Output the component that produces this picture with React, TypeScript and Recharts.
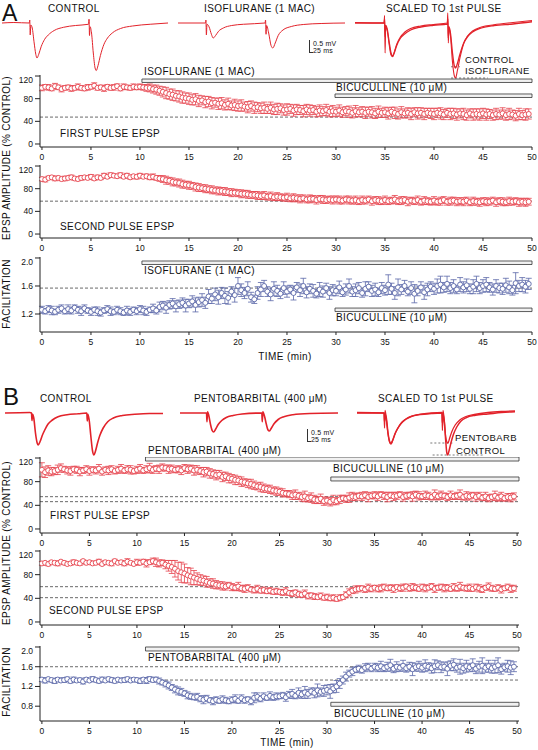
import React from "react";
import {
  ComposedChart,
  Scatter,
  ErrorBar,
  XAxis,
  YAxis,
  ReferenceLine,
  ReferenceArea,
  LineChart,
  Line,
} from "recharts";

const FONT = '"Liberation Sans", Arial, Helvetica, sans-serif';
const RED = "#e6434d";
const BLUE = "#5a67a8";
const TRACE_RED = "#e2222a";
const AXIS = "#222";

const SAMPLES_PER_MIN = 3;
const TIME_TICKS = [0, 5, 10, 15, 20, 25, 30, 35, 40, 45, 50];
const EPSP_TICKS = [0, 40, 80, 120];
const FACIL_TICKS_A = [1.0, 1.2, 1.4, 1.6, 1.8, 2.0];
const FACIL_TICKS_B = [0.8, 1.2, 1.6, 2.0];

// drug application windows (min)
const ISO_ON = [10.2, 50];
const BIC_ON_A = [29.9, 50];
const PENTO_ON = [10.9, 50.2];
const BIC_ON_B = [30.4, 50.2];

// dashed reference levels
const REF_A1 = [47.5];
const REF_A2 = [58];
const REF_A3 = [1.57];
const REF_B1 = [54.6, 46.2];
const REF_B2 = [59.7, 41.1];
const REF_B3 = [1.6, 1.33];

// panel A, isoflurane, one value every 20 s
const ISO_FIRST = [
  99, 101, 100, 98, 102, 100, 97, 99, 100, 98, 99, 101, 99, 98, 100,
  101, 103, 99, 100, 98, 101, 99, 100, 102, 98, 101, 100, 99, 101, 100,
  101, 100, 99, 99, 97, 96, 94, 92, 90, 88, 87, 85, 84, 82, 81,
  80, 78, 79, 76, 77, 74, 75, 72, 73, 71, 72, 69, 71, 68, 69,
  67, 68, 66, 65, 67, 64, 65, 63, 64, 62, 64, 61, 62, 63, 60,
  61, 62, 59, 61, 60, 58, 61, 59, 60, 57, 59, 58, 60, 57, 58,
  57, 59, 56, 58, 57, 55, 58, 56, 57, 55, 57, 56, 54, 57, 55,
  56, 54, 57, 55, 53, 56, 54, 55, 53, 56, 54, 55, 53, 55, 54,
  53, 55, 54, 52, 55, 53, 54, 52, 54, 53, 51, 54, 52, 53, 52,
  54, 52, 53, 51, 53, 52, 54, 51, 53, 52, 50, 53, 51, 52, 53,
];
const ISO_FIRST_ERR = [
  5, 4, 5, 4, 5, 4, 5, 4, 4, 5, 4, 5, 4, 4, 5,
  4, 5, 4, 4, 5, 4, 4, 5, 4, 4, 5, 4, 4, 5, 4,
  5, 5, 6, 7, 7, 8, 8, 9, 10, 9, 10, 9, 10, 10, 9,
  10, 9, 10, 10, 8, 10, 9, 10, 8, 10, 10, 9, 10, 8, 10,
  9, 10, 8, 10, 9, 10, 8, 9, 10, 8, 10, 9, 10, 8, 9,
  10, 8, 10, 9, 8, 10, 9, 10, 8, 9, 10, 8, 10, 9, 10,
  8, 10, 9, 8, 10, 9, 10, 8, 9, 10, 8, 10, 9, 10, 8,
  9, 10, 8, 10, 9, 10, 8, 9, 10, 8, 10, 9, 10, 8, 9,
  10, 8, 10, 9, 8, 10, 9, 10, 8, 10, 9, 8, 10, 9, 10,
  9, 10, 8, 9, 10, 8, 10, 9, 10, 8, 9, 10, 8, 10, 9,
];
const ISO_SECOND = [
  97, 96, 99, 100, 98, 99, 97, 98, 99, 100, 98, 97, 99, 100, 99,
  101, 98, 100, 99, 103, 101, 104, 103, 102, 104, 101, 103, 100, 102, 101,
  103, 101, 102, 100, 101, 99, 98, 97, 95, 94, 92, 91, 90, 88, 87,
  86, 85, 83, 82, 81, 80, 79, 78, 77, 76, 76, 75, 74, 73, 73,
  72, 71, 71, 70, 69, 69, 68, 67, 68, 66, 67, 65, 66, 65, 64,
  65, 63, 64, 63, 62, 63, 61, 62, 62, 60, 62, 61, 60, 61, 60,
  61, 60, 59, 61, 60, 59, 60, 58, 60, 59, 61, 58, 60, 59, 58,
  60, 58, 59, 61, 58, 59, 60, 57, 59, 58, 60, 57, 59, 58, 57,
  59, 57, 58, 60, 57, 58, 59, 57, 58, 57, 59, 56, 58, 57, 56,
  58, 57, 57, 59, 56, 58, 57, 56, 58, 57, 58, 56, 57, 56, 57,
];
const ISO_SECOND_ERR = [
  3, 4, 3, 3, 4, 3, 3, 4, 3, 4, 3, 3, 4, 3, 3,
  4, 3, 4, 3, 4, 3, 4, 3, 3, 4, 3, 4, 3, 3, 4,
  4, 3, 4, 4, 5, 4, 5, 6, 7, 6, 7, 6, 7, 7, 6,
  7, 6, 7, 7, 6, 7, 6, 7, 6, 7, 6, 7, 6, 7, 6,
  6, 7, 6, 7, 6, 6, 7, 6, 7, 6, 7, 6, 7, 6, 6,
  7, 6, 7, 6, 7, 6, 6, 7, 6, 7, 6, 7, 6, 6, 7,
  6, 7, 6, 6, 7, 6, 7, 6, 7, 6, 6, 7, 6, 7, 6,
  7, 6, 6, 7, 6, 7, 6, 7, 6, 6, 7, 6, 7, 6, 6,
  7, 6, 7, 6, 6, 7, 6, 7, 6, 7, 6, 6, 7, 6, 7,
  6, 7, 6, 6, 7, 6, 7, 6, 7, 6, 6, 7, 6, 7, 6,
];
const ISO_FACIL = [
  1.26, 1.24, 1.27, 1.25, 1.23, 1.26, 1.28, 1.24, 1.27, 1.25, 1.29, 1.26, 1.24, 1.28, 1.25,
  1.23, 1.26, 1.24, 1.22, 1.25, 1.27, 1.24, 1.23, 1.26, 1.24, 1.22, 1.25, 1.23, 1.26, 1.24,
  1.27, 1.25, 1.23, 1.26, 1.28, 1.25, 1.3, 1.32, 1.29, 1.33, 1.35, 1.31, 1.34, 1.36, 1.32,
  1.35, 1.38, 1.33, 1.37, 1.4, 1.36, 1.45, 1.42, 1.48, 1.44, 1.5, 1.46, 1.43, 1.52, 1.47,
  1.6, 1.54, 1.5, 1.56, 1.44, 1.41, 1.5, 1.55, 1.6, 1.52, 1.48, 1.56, 1.53, 1.49, 1.57,
  1.52, 1.55, 1.5, 1.58, 1.54, 1.6, 1.51, 1.56, 1.53, 1.49, 1.55, 1.52, 1.57, 1.5, 1.54,
  1.53, 1.58, 1.51, 1.55, 1.6, 1.52, 1.54, 1.57, 1.5, 1.56, 1.59, 1.53, 1.55, 1.51, 1.57,
  1.54, 1.62, 1.56, 1.5, 1.58, 1.55, 1.6, 1.52, 1.57, 1.49, 1.53, 1.58, 1.51, 1.55, 1.59,
  1.56, 1.6, 1.62, 1.58, 1.63, 1.57, 1.6, 1.55, 1.62, 1.58, 1.61, 1.56, 1.59, 1.63, 1.57,
  1.6, 1.62, 1.58, 1.55, 1.6, 1.57, 1.56, 1.61, 1.58, 1.54, 1.64, 1.6, 1.62, 1.59, 1.63,
];
const ISO_FACIL_ERR = [
  0.05, 0.04, 0.05, 0.06, 0.04, 0.05, 0.05, 0.04, 0.06, 0.05, 0.04, 0.05, 0.06, 0.05, 0.04,
  0.05, 0.04, 0.06, 0.05, 0.04, 0.05, 0.06, 0.04, 0.05, 0.05, 0.04, 0.06, 0.05, 0.04, 0.05,
  0.05, 0.06, 0.05, 0.04, 0.06, 0.05, 0.07, 0.06, 0.08, 0.06, 0.07, 0.08, 0.06, 0.07, 0.09,
  0.06, 0.08, 0.1, 0.07, 0.09, 0.08, 0.1, 0.07, 0.09, 0.1, 0.08, 0.11, 0.09, 0.07, 0.1,
  0.12, 0.09, 0.08, 0.1, 0.07, 0.06, 0.09, 0.1, 0.08, 0.07, 0.09, 0.1, 0.08, 0.07, 0.09,
  0.08, 0.06, 0.1, 0.07, 0.09, 0.11, 0.08, 0.07, 0.09, 0.06, 0.1, 0.08, 0.07, 0.09, 0.08,
  0.07, 0.09, 0.06, 0.08, 0.1, 0.07, 0.09, 0.08, 0.06, 0.1, 0.07, 0.08, 0.09, 0.06, 0.08,
  0.07, 0.14, 0.08, 0.09, 0.12, 0.07, 0.08, 0.06, 0.09, 0.13, 0.07, 0.08, 0.1, 0.09, 0.07,
  0.08, 0.1, 0.12, 0.07, 0.11, 0.08, 0.09, 0.06, 0.1, 0.08, 0.09, 0.07, 0.1, 0.11, 0.08,
  0.09, 0.1, 0.07, 0.08, 0.09, 0.07, 0.08, 0.1, 0.09, 0.07, 0.15, 0.08, 0.1, 0.09, 0.08,
];

// panel B, pentobarbital
const PENTO_FIRST = [
  100, 96, 99, 97, 98, 100, 103, 101, 99, 98, 101, 100, 97, 99, 101,
  98, 100, 99, 102, 97, 100, 99, 101, 98, 100, 102, 99, 101, 100, 98,
  100, 102, 99, 101, 103, 100, 102, 101, 104, 103, 101, 102, 100, 101, 99,
  103, 101, 102, 99, 100, 98, 96, 97, 94, 93, 91, 92, 88, 89, 86,
  85, 83, 82, 80, 79, 77, 76, 74, 72, 71, 69, 68, 67, 65, 64,
  63, 61, 60, 59, 57, 58, 56, 54, 55, 52, 53, 50, 49, 51, 47,
  48, 46, 49, 47, 50, 52, 51, 53, 55, 54, 56, 55, 57, 54, 56,
  57, 55, 58, 56, 54, 57, 55, 56, 58, 54, 56, 57, 55, 58, 56,
  55, 57, 56, 54, 58, 55, 57, 56, 54, 57, 55, 56, 58, 54, 56,
  55, 57, 54, 56, 53, 55, 52, 54, 56, 53, 55, 52, 54, 53, 55,
];
const PENTO_FIRST_ERR = [
  12, 9, 8, 7, 6, 8, 7, 5, 6, 7, 5, 6, 7, 5, 6,
  7, 5, 6, 7, 6, 5, 7, 6, 5, 6, 7, 5, 6, 7, 5,
  6, 7, 5, 6, 8, 6, 5, 7, 6, 5, 7, 6, 5, 6, 7,
  6, 7, 6, 8, 7, 6, 8, 7, 8, 7, 8, 7, 8, 7, 8,
  7, 8, 7, 8, 6, 7, 8, 7, 6, 8, 7, 6, 7, 6, 7,
  6, 7, 5, 6, 7, 8, 6, 7, 9, 6, 8, 7, 6, 8, 7,
  6, 7, 8, 6, 7, 5, 6, 8, 7, 6, 5, 7, 6, 8, 5,
  6, 7, 5, 6, 8, 5, 7, 6, 5, 7, 6, 5, 8, 6, 7,
  5, 7, 6, 5, 8, 6, 7, 5, 6, 7, 5, 6, 8, 5, 7,
  6, 5, 7, 6, 5, 7, 6, 5, 8, 6, 7, 5, 6, 7, 6,
];
const PENTO_SECOND = [
  99, 100, 98, 101, 100, 99, 102, 100, 98, 99, 101, 100, 99, 103, 100,
  101, 99, 100, 102, 98, 101, 100, 99, 103, 100, 101, 99, 102, 100, 98,
  101, 100, 102, 99, 101, 103, 101, 99, 100, 97, 95, 93, 90, 86, 84,
  82, 79, 77, 75, 73, 71, 70, 68, 66, 65, 63, 62, 61, 60, 62,
  59, 58, 60, 57, 56, 58, 55, 54, 56, 53, 54, 52, 53, 51, 52,
  51, 50, 52, 49, 48, 50, 47, 46, 48, 44, 45, 43, 42, 44, 41,
  42, 40, 41, 39, 41, 42, 46, 50, 53, 55, 56, 57, 55, 58, 56,
  58, 56, 57, 59, 57, 58, 56, 59, 57, 58, 60, 57, 59, 58, 56,
  59, 57, 58, 60, 56, 58, 59, 57, 58, 56, 59, 57, 60, 58, 57,
  58, 56, 59, 57, 55, 58, 60, 57, 56, 58, 55, 57, 59, 56, 57,
];
const PENTO_SECOND_ERR = [
  3, 2, 3, 2, 3, 4, 2, 3, 2, 3, 4, 2, 3, 2, 3,
  3, 2, 3, 4, 2, 3, 2, 4, 3, 2, 3, 4, 5, 3, 2,
  5, 3, 4, 6, 4, 5, 7, 6, 5, 7, 9, 11, 14, 15, 17,
  16, 13, 14, 12, 10, 9, 8, 9, 7, 8, 7, 6, 7, 6, 5,
  6, 5, 7, 5, 6, 5, 4, 5, 6, 4, 5, 4, 5, 4, 5,
  4, 5, 6, 4, 5, 4, 5, 4, 6, 5, 4, 5, 4, 5, 4,
  5, 4, 5, 4, 5, 4, 5, 6, 5, 6, 5, 4, 5, 6, 5,
  4, 5, 6, 5, 4, 5, 6, 4, 5, 6, 4, 5, 6, 5, 4,
  5, 6, 4, 5, 6, 4, 5, 6, 5, 4, 6, 5, 7, 4, 5,
  6, 4, 5, 6, 5, 4, 6, 5, 4, 5, 6, 4, 5, 6, 5,
];
const PENTO_FACIL = [
  1.34, 1.32, 1.35, 1.33, 1.31, 1.34, 1.32, 1.33, 1.35, 1.31, 1.34, 1.32, 1.33, 1.3, 1.34,
  1.32, 1.35, 1.33, 1.31, 1.34, 1.32, 1.35, 1.33, 1.31, 1.34, 1.32, 1.33, 1.35, 1.32, 1.34,
  1.33, 1.31, 1.34, 1.32, 1.35, 1.33, 1.34, 1.31, 1.28, 1.25, 1.22, 1.18, 1.14, 1.11, 1.09,
  1.06, 1.02, 1.0, 0.98, 0.99, 0.95, 0.93, 0.96, 0.92, 0.9, 0.93, 0.91, 0.94, 0.92, 0.9,
  0.93, 0.95, 0.91, 0.96, 0.92, 0.94, 0.9, 0.97, 0.99, 0.95, 1.0, 0.97, 1.01, 0.98, 1.0,
  1.0, 1.02, 0.98, 1.03, 1.05, 1.01, 1.07, 1.04, 1.08, 1.05, 1.1, 1.07, 1.12, 1.09, 1.11,
  1.13, 1.1, 1.16, 1.2, 1.26, 1.33, 1.4, 1.46, 1.5, 1.54, 1.56, 1.53, 1.58, 1.6, 1.56,
  1.6, 1.58, 1.61, 1.57, 1.6, 1.63, 1.56, 1.6, 1.58, 1.62, 1.57, 1.6, 1.55, 1.59, 1.61,
  1.58, 1.62, 1.6, 1.57, 1.61, 1.63, 1.59, 1.6, 1.56, 1.62, 1.64, 1.58, 1.6, 1.57, 1.61,
  1.59, 1.63, 1.56, 1.6, 1.62, 1.58, 1.61, 1.57, 1.6, 1.63, 1.55, 1.59, 1.61, 1.58, 1.6,
];
const PENTO_FACIL_ERR = [
  0.04, 0.05, 0.03, 0.04, 0.05, 0.04, 0.03, 0.05, 0.04, 0.04, 0.05, 0.03, 0.04, 0.05, 0.04,
  0.03, 0.05, 0.04, 0.04, 0.05, 0.03, 0.04, 0.05, 0.04, 0.03, 0.04, 0.05, 0.04, 0.03, 0.04,
  0.04, 0.05, 0.04, 0.06, 0.05, 0.04, 0.05, 0.06, 0.05, 0.06, 0.07, 0.06, 0.07, 0.08, 0.07,
  0.06, 0.07, 0.06, 0.05, 0.07, 0.06, 0.08, 0.06, 0.05, 0.07, 0.06, 0.05, 0.07, 0.06, 0.05,
  0.06, 0.08, 0.05, 0.07, 0.06, 0.05, 0.07, 0.1, 0.08, 0.06, 0.07, 0.05, 0.08, 0.06, 0.07,
  0.05, 0.06, 0.08, 0.07, 0.09, 0.06, 0.1, 0.08, 0.12, 0.09, 0.07, 0.1, 0.13, 0.08, 0.11,
  0.1, 0.14, 0.09, 0.12, 0.1, 0.08, 0.09, 0.07, 0.08, 0.06, 0.07, 0.06, 0.08, 0.07, 0.06,
  0.07, 0.08, 0.1, 0.07, 0.09, 0.12, 0.08, 0.1, 0.07, 0.11, 0.08, 0.09, 0.13, 0.08, 0.1,
  0.09, 0.12, 0.08, 0.1, 0.13, 0.09, 0.11, 0.08, 0.14, 0.1, 0.12, 0.09, 0.15, 0.1, 0.12,
  0.08, 0.13, 0.1, 0.11, 0.16, 0.09, 0.12, 0.1, 0.13, 0.15, 0.1, 0.08, 0.12, 0.14, 0.1,
];

// example sweeps: [ms, mV]
const SWEEP_A_CONTROL = [
  [0, 0], [10, 0.02], [23, 0], [23.4, 0.12], [23.8, -0.48], [24.3, -0.08], [25.5, -0.2],
  [27, -0.75], [28.5, -1.25], [29.5, -1.4], [31, -1.25], [33, -0.95], [36, -0.65],
  [39, -0.48], [44, -0.3], [52, -0.17], [62, -0.1], [73, -0.05], [73.4, 0.15],
  [73.8, -0.5], [74.3, -0.15], [75.5, -0.4], [77, -1.2], [78.5, -1.8], [79.5, -1.9],
  [81, -1.7], [83, -1.3], [86, -0.85], [89, -0.6], [93, -0.4], [100, -0.22],
  [110, -0.12], [125, -0.05], [140, 0],
];
const SWEEP_A_ISO = [
  [0, 0], [23, 0], [23.4, 0.12], [23.8, -0.48], [24.3, -0.05], [26, -0.15], [28, -0.45],
  [29.5, -0.6], [31.5, -0.5], [34, -0.33], [38, -0.2], [45, -0.1], [55, -0.05], [73, 0],
  [73.4, 0.12], [73.8, -0.45], [74.3, -0.1], [76, -0.4], [78, -0.9], [79.5, -1.0],
  [81.5, -0.8], [84, -0.5], [88, -0.28], [95, -0.14], [105, -0.06], [120, -0.02], [140, 0],
];
const SWEEP_A_SCALED_CONTROL = [
  [0, 0], [23, 0], [23.4, 0.15], [23.8, -0.55], [24.3, -0.1], [25.5, -0.25], [27, -0.75],
  [28.5, -1.2], [29.8, -1.32], [31, -1.2], [33, -0.9], [36, -0.6], [39, -0.45],
  [44, -0.28], [52, -0.16], [62, -0.09], [73, -0.04], [73.4, 0.18], [73.8, -0.6],
  [74.3, -0.15], [75.5, -0.4], [77, -1.15], [78.5, -1.7], [79.5, -1.8], [81, -1.62],
  [83, -1.25], [86, -0.8], [89, -0.55], [93, -0.36], [100, -0.2], [110, -0.1],
  [125, -0.04], [140, 0.05],
];
const SWEEP_A_SCALED_ISO = [
  [0, 0.02], [23, 0], [23.4, 0.3], [23.8, -1.2], [24.3, -0.15], [25.5, -0.3], [27, -0.85],
  [28.5, -1.28], [29.8, -1.35], [31, -1.18], [33, -0.85], [36, -0.55], [39, -0.38],
  [44, -0.22], [52, -0.12], [62, -0.06], [73, 0], [73.4, 0.4], [73.8, -0.8], [74.3, -0.2],
  [75.5, -0.5], [77, -1.5], [78.5, -2.1], [79.5, -2.2], [81, -1.9], [83, -1.4],
  [86, -0.82], [89, -0.52], [93, -0.32], [100, -0.16], [110, -0.07], [125, 0.02], [140, 0.1],
];
const SWEEP_B_CONTROL = [
  [0, 0], [22, 0.02], [23.5, 0], [23.9, -0.3], [24.4, -0.05], [25.5, -0.2], [27, -0.8],
  [28.5, -1.2], [29.5, -1.28], [31, -1.15], [33, -0.9], [35, -0.7], [38, -0.45],
  [42, -0.28], [47, -0.15], [55, -0.07], [65, -0.03], [72.5, 0], [72.9, -0.32],
  [73.4, -0.05], [74.5, -0.25], [76, -0.9], [77.5, -1.5], [78.8, -1.68], [80, -1.55],
  [82, -1.2], [84, -0.9], [87, -0.6], [91, -0.35], [96, -0.2], [104, -0.1], [115, -0.05],
  [128, -0.02], [140, -0.02],
];
const SWEEP_B_PENTO = [
  [0, 0], [23.5, 0], [23.9, -0.35], [24.4, 0.05], [25.5, -0.1], [27, -0.45], [28.5, -0.7],
  [29.8, -0.76], [31.5, -0.65], [34, -0.45], [37, -0.3], [41, -0.18], [47, -0.1],
  [55, -0.04], [72.5, 0], [72.9, -0.35], [73.4, 0.05], [75, -0.15], [76.5, -0.45],
  [78, -0.68], [79.2, -0.72], [81, -0.6], [83.5, -0.42], [87, -0.26], [92, -0.15],
  [100, -0.07], [115, -0.02], [140, 0],
];
const SWEEP_B_SCALED_CONTROL = [
  [0, 0], [24, 0], [24.4, -0.35], [24.9, -0.05], [26, -0.2], [27.5, -0.8], [29, -1.15],
  [30, -1.22], [31.5, -1.1], [33.5, -0.85], [36, -0.62], [39, -0.42], [43, -0.26],
  [48, -0.14], [56, -0.06], [66, -0.02], [75.3, 0], [75.7, -0.4], [76.2, -0.05],
  [77.3, -0.3], [78.6, -1.1], [79.6, -1.6], [80.4, -1.68], [81.6, -1.5], [83.5, -1.15],
  [85.5, -0.85], [88.5, -0.55], [92, -0.33], [97, -0.18], [105, -0.09], [116, -0.04],
  [128, 0.02], [140, 0.05],
];
const SWEEP_B_SCALED_PENTO = [
  [0, 0.02], [24, 0], [24.4, -0.6], [24.9, 0.1], [26, -0.25], [27.5, -0.85], [29, -1.18],
  [30.2, -1.24], [31.8, -1.08], [34, -0.8], [37, -0.55], [40, -0.36], [44, -0.22],
  [50, -0.11], [58, -0.04], [66, 0], [75.3, 0.02], [75.7, -0.7], [76.2, 0.1], [77.3, -0.3],
  [78.6, -0.95], [79.6, -1.15], [80.6, -1.2], [82, -1.02], [84, -0.75], [87, -0.48],
  [91, -0.28], [96, -0.15], [104, -0.06], [116, 0.02], [128, 0.06], [140, 0.08],
];

const SWEEP_MS = [0, 140];
const SWEEP_MV = [-2.4, 0.6];
const SWEEP_H = 75;

type Pt = number[];

const Txt = ({ x, y, children, size = 10, ls = 0.4, anchor = "start" }: any) => (
  <div
    style={{
      position: "absolute",
      left: x,
      top: y - size * 0.5,
      fontSize: size,
      lineHeight: 1,
      letterSpacing: ls,
      whiteSpace: "nowrap",
      color: "#111",
      fontFamily: FONT,
      transform: anchor === "middle" ? "translateX(-50%)" : undefined,
    }}
  >
    {children}
  </div>
);

const VTxt = ({ x, y, children }: any) => (
  <div
    style={{
      position: "absolute",
      left: x,
      top: y,
      fontSize: 10,
      lineHeight: 1,
      letterSpacing: 0.3,
      whiteSpace: "nowrap",
      color: "#111",
      fontFamily: FONT,
      transform: "translate(-50%, -50%) rotate(-90deg)",
    }}
  >
    {children}
  </div>
);

const ScaleBar = ({ x, y, h }: any) => (
  <>
    <div
      style={{
        position: "absolute",
        left: x,
        top: y,
        width: 3,
        height: h,
        borderLeft: "1px solid #333",
        borderBottom: "1px solid #333",
      }}
    />
    <Txt x={x + 4} y={y + 3} size={7} ls={0.2}>0.5 mV</Txt>
    <Txt x={x + 4} y={y + h - 2} size={7} ls={0.2}>25 ms</Txt>
  </>
);

interface SweepLine {
  pts: Pt[];
  color: string;
  w: number;
}

const Sweep = ({ left, base, width, lines, dashes = [] }: any) => (
  <div style={{ position: "absolute", left, top: base - 15, width, height: SWEEP_H }}>
    <LineChart width={width} height={SWEEP_H} margin={{ top: 0, right: 0, bottom: 0, left: 0 }}>
      <XAxis type="number" dataKey="t" domain={SWEEP_MS} hide allowDataOverflow />
      <YAxis type="number" domain={SWEEP_MV} hide allowDataOverflow />
      {dashes.map((d: number[], i: number) => (
        <ReferenceLine
          key={i}
          segment={[{ x: d[0], y: d[2] }, { x: d[1], y: d[2] }]}
          stroke="#555"
          strokeDasharray="2 2"
          strokeWidth={0.8}
          ifOverflow="visible"
        />
      ))}
      {lines.map((l: SweepLine, i: number) => (
        <Line
          key={i}
          data={l.pts.map(([t, v]) => ({ t, v }))}
          dataKey="v"
          type="monotone"
          stroke={l.color}
          strokeWidth={l.w}
          dot={false}
          isAnimationActive={false}
        />
      ))}
    </LineChart>
  </div>
);

const TimePlot = ({
  top,
  bottom,
  right,
  xDomain,
  yDomain,
  yTicks,
  fmt,
  values,
  errors,
  color,
  refs,
  bars = [],
}: any) => {
  const rows = values.map((v: number, i: number) => ({
    t: i / SAMPLES_PER_MIN,
    v,
    e: errors[i],
  }));
  const height = bottom - top + 22;
  const tickStyle = { fontSize: 8.5, fill: "#111", fontFamily: FONT };
  return (
    <div style={{ position: "absolute", left: 0, top, width: 538, height }}>
      <ComposedChart
        width={538}
        height={height}
        data={rows}
        margin={{ top: 0, right: 538 - right, bottom: 0, left: 0 }}
      >
        <XAxis
          dataKey="t"
          type="number"
          domain={xDomain}
          ticks={TIME_TICKS}
          allowDataOverflow
          height={22}
          tickSize={3}
          tickMargin={4}
          tick={tickStyle}
          stroke={AXIS}
        />
        <YAxis
          type="number"
          domain={yDomain}
          ticks={yTicks}
          allowDataOverflow
          width={40}
          tickSize={5}
          tickMargin={2}
          tick={tickStyle}
          tickFormatter={fmt}
          stroke={AXIS}
        />
        {refs.map((y: number) => (
          <ReferenceLine key={y} y={y} stroke="#444" strokeDasharray="3 2" strokeWidth={0.8} />
        ))}
        {bars.map((b: any, i: number) => (
          <ReferenceArea
            key={i}
            x1={b.on[0]}
            x2={b.on[1]}
            y1={b.y[0]}
            y2={b.y[1]}
            fill="#f1f1f1"
            fillOpacity={1}
            stroke="#333"
            strokeWidth={0.8}
            ifOverflow="visible"
          />
        ))}
        <Scatter
          dataKey="v"
          isAnimationActive={false}
          shape={(p: any) => (
            <circle cx={p.cx} cy={p.cy} r={2.5} fill="#fff" stroke={color} strokeWidth={0.9} />
          )}
        >
          <ErrorBar dataKey="e" direction="y" width={3} stroke={color} strokeWidth={0.8} />
        </Scatter>
      </ComposedChart>
    </div>
  );
};

const fmtInt = (v: number) => String(v);
const fmtOne = (v: number) => v.toFixed(1);

const X_A = [-0.2, 50];
const X_B = [-0.2, 50.2];

export default function App() {
  return (
    <div
      style={{
        position: "absolute",
        left: 0,
        top: 0,
        width: 538,
        height: 750,
        background: "#fff",
        overflow: "hidden",
        fontFamily: FONT,
      }}
    >
      {/* ---------- panel A ---------- */}
      <Txt x={2} y={13.5} size={23} ls={0}>A</Txt>
      <Txt x={48} y={9}>CONTROL</Txt>
      <Txt x={204} y={9}>ISOFLURANE (1 MAC)</Txt>
      <Txt x={386} y={9}>SCALED TO 1st PULSE</Txt>

      <Sweep left={2} base={23} width={166} lines={[{ pts: SWEEP_A_CONTROL, color: TRACE_RED, w: 1 }]} />
      <Sweep left={178} base={23} width={167} lines={[{ pts: SWEEP_A_ISO, color: TRACE_RED, w: 1 }]} />
      <Sweep
        left={355}
        base={23}
        width={177}
        lines={[
          { pts: SWEEP_A_SCALED_CONTROL, color: TRACE_RED, w: 1.3 },
          { pts: SWEEP_A_SCALED_ISO, color: TRACE_RED, w: 1.1 },
        ]}
        dashes={[
          [76, 83, -1.75],
          [76, 105, -2.2],
        ]}
      />
      <ScaleBar x={309} y={40} h={12} />
      <Txt x={465} y={60} size={9.5}>CONTROL</Txt>
      <Txt x={465} y={71} size={9.5}>ISOFLURANE</Txt>

      <TimePlot
        top={75}
        bottom={147}
        right={532}
        xDomain={X_A}
        yDomain={[-5.3, 121.8]}
        yTicks={EPSP_TICKS}
        fmt={fmtInt}
        values={ISO_FIRST}
        errors={ISO_FIRST_ERR}
        color={RED}
        refs={REF_A1}
        bars={[
          { on: ISO_ON, y: [108.6, 114.7] },
          { on: BIC_ON_A, y: [82.1, 88.3] },
        ]}
      />
      <Txt x={144} y={72}>ISOFLURANE (1 MAC)</Txt>
      <Txt x={336} y={88}>BICUCULLINE (10 μM)</Txt>
      <Txt x={60} y={134}>FIRST PULSE EPSP</Txt>

      <TimePlot
        top={165}
        bottom={238}
        right={532}
        xDomain={X_A}
        yDomain={[-7, 121.8]}
        yTicks={EPSP_TICKS}
        fmt={fmtInt}
        values={ISO_SECOND}
        errors={ISO_SECOND_ERR}
        color={RED}
        refs={REF_A2}
      />
      <Txt x={60} y={227}>SECOND PULSE EPSP</Txt>

      <TimePlot
        top={257}
        bottom={332}
        right={532}
        xDomain={X_A}
        yDomain={[0.943, 2.014]}
        yTicks={FACIL_TICKS_A}
        fmt={fmtOne}
        values={ISO_FACIL}
        errors={ISO_FACIL_ERR}
        color={BLUE}
        refs={REF_A3}
        bars={[
          { on: ISO_ON, y: [1.907, 1.957] },
          { on: BIC_ON_A, y: [1.235, 1.285] },
        ]}
      />
      <Txt x={144} y={271}>ISOFLURANE (1 MAC)</Txt>
      <Txt x={336} y={318}>BICUCULLINE (10 μM)</Txt>
      <Txt x={285} y={357} anchor="middle">TIME (min)</Txt>

      <VTxt x={7} y={158}>EPSP AMPLITUDE (% CONTROL)</VTxt>
      <VTxt x={7} y={294}>FACILITATION</VTxt>

      {/* ---------- panel B ---------- */}
      <Txt x={3} y={397} size={24} ls={0}>B</Txt>
      <Txt x={40} y={399}>CONTROL</Txt>
      <Txt x={194} y={399}>PENTOBARBITAL (400 μM)</Txt>
      <Txt x={378} y={399}>SCALED TO 1st PULSE</Txt>

      <Sweep left={5} base={413} width={158} lines={[{ pts: SWEEP_B_CONTROL, color: TRACE_RED, w: 1.6 }]} />
      <Sweep left={180} base={413} width={158} lines={[{ pts: SWEEP_B_PENTO, color: TRACE_RED, w: 1.6 }]} />
      <Sweep
        left={357}
        base={413}
        width={158}
        lines={[
          { pts: SWEEP_B_SCALED_CONTROL, color: TRACE_RED, w: 1.5 },
          { pts: SWEEP_B_SCALED_PENTO, color: TRACE_RED, w: 1.3 },
        ]}
        dashes={[
          [65, 85, -1.2],
          [67, 112, -1.68],
        ]}
      />
      <ScaleBar x={307} y={429} h={12} />
      <Txt x={455} y={438} size={9.5}>PENTOBARB</Txt>
      <Txt x={456} y={451} size={9.5}>CONTROL</Txt>

      <TimePlot
        top={457}
        bottom={533}
        right={519}
        xDomain={X_B}
        yDomain={[-6.8, 121.7]}
        yTicks={EPSP_TICKS}
        fmt={fmtInt}
        values={PENTO_FIRST}
        errors={PENTO_FIRST_ERR}
        color={RED}
        refs={REF_B1}
        bars={[
          { on: PENTO_ON, y: [114.9, 121.7] },
          { on: BIC_ON_B, y: [81.2, 87.9] },
        ]}
      />
      <Txt x={148} y={451}>PENTOBARBITAL (400 μM)</Txt>
      <Txt x={333} y={469}>BICUCULLINE (10 μM)</Txt>
      <Txt x={50} y={516}>FIRST PULSE EPSP</Txt>

      <TimePlot
        top={550}
        bottom={625}
        right={519}
        xDomain={X_B}
        yDomain={[-5.1, 121.7]}
        yTicks={EPSP_TICKS}
        fmt={fmtInt}
        values={PENTO_SECOND}
        errors={PENTO_SECOND_ERR}
        color={RED}
        refs={REF_B2}
      />
      <Txt x={49} y={611}>SECOND PULSE EPSP</Txt>

      <TimePlot
        top={646}
        bottom={721}
        right={519}
        xDomain={X_B}
        yDomain={[0.5, 2.02]}
        yTicks={FACIL_TICKS_B}
        fmt={fmtOne}
        values={PENTO_FACIL}
        errors={PENTO_FACIL_ERR}
        color={BLUE}
        refs={REF_B3}
        bars={[
          { on: PENTO_ON, y: [1.919, 2.0] },
          { on: BIC_ON_B, y: [0.798, 0.879] },
        ]}
      />
      <Txt x={148} y={658}>PENTOBARBITAL (400 μM)</Txt>
      <Txt x={334} y={714}>BICUCULLINE (10 μM)</Txt>
      <Txt x={287} y={743} anchor="middle">TIME (min)</Txt>

      <VTxt x={7} y={543}>EPSP AMPLITUDE (% CONTROL)</VTxt>
      <VTxt x={7} y={682}>FACILITATION</VTxt>
    </div>
  );
}
